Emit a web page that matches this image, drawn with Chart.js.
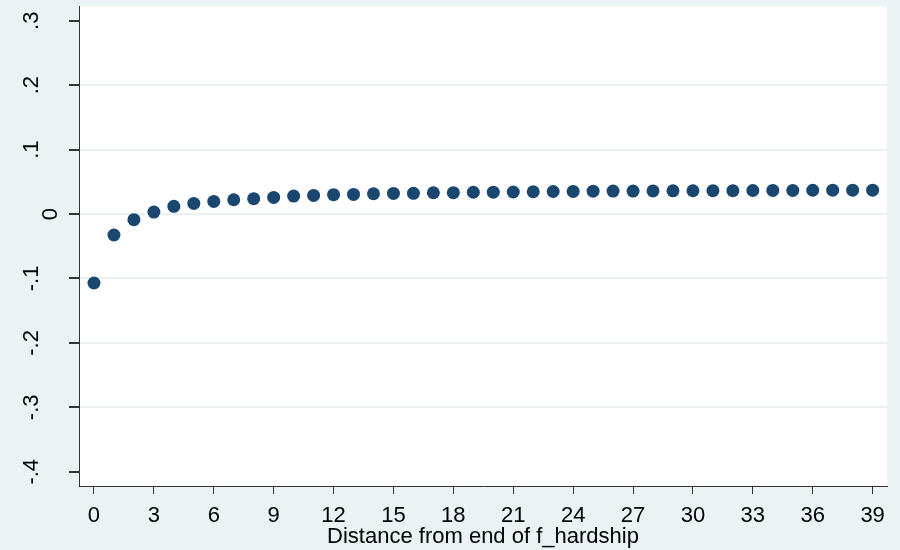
<!DOCTYPE html>
<html>
<head>
<meta charset="utf-8">
<script src="https://cdn.jsdelivr.net/npm/chart.js@4.4.1/dist/chart.umd.min.js"></script>
<style>
  html, body { margin: 0; padding: 0; background: #eaf2f3; }
  #wrap { width: 900px; height: 550px; position: relative; }
</style>
</head>
<body>
<div id="wrap"><canvas id="chart"></canvas></div>
<script>
// data
const distance = [0, 1, 2, 3, 4, 5, 6, 7, 8, 9, 10, 11, 12, 13, 14, 15, 16, 17, 18, 19,
  20, 21, 22, 23, 24, 25, 26, 27, 28, 29, 30, 31, 32, 33, 34, 35, 36, 37, 38, 39];
const effect = [-0.107, -0.0325, -0.0087, 0.0031, 0.0119, 0.0165, 0.0196, 0.0222, 0.0238, 0.0258,
  0.0278, 0.0289, 0.0300, 0.0304, 0.0315, 0.0320, 0.0322, 0.0330, 0.0332, 0.0338,
  0.0340, 0.0342, 0.0346, 0.0350, 0.0351, 0.0355, 0.0356, 0.0357, 0.0358, 0.0360,
  0.0361, 0.0362, 0.0363, 0.0365, 0.0366, 0.0367, 0.0369, 0.0370, 0.0370, 0.0371];

const xTicks = [0, 3, 6, 9, 12, 15, 18, 21, 24, 27, 30, 33, 36, 39];
const yTicks = [-0.4, -0.3, -0.2, -0.1, 0, 0.1, 0.2, 0.3];
const yTickLabels = ['-.4', '-.3', '-.2', '-.1', '0', '.1', '.2', '.3'];
const xTitle = 'Distance from end of f_hardship';

const points = distance.map((d, i) => ({ x: d, y: effect[i] }));
const FONT = 'Liberation Sans, Arial, sans-serif';

// white plot region on the stata-ish background
const plotBg = {
  id: 'plotBg',
  beforeDraw(chart) {
    const { ctx, chartArea: a } = chart;
    ctx.save();
    ctx.fillStyle = '#eaf2f3';
    ctx.fillRect(0, 0, chart.width, chart.height);
    ctx.fillStyle = '#ffffff';
    ctx.fillRect(a.left, a.top, a.right - a.left, a.bottom - a.top);
    ctx.restore();
  }
};

function setTicks(list) {
  return scale => { scale.ticks = list.map(v => ({ value: v })); };
}

const chart = new Chart(document.getElementById('chart'), {
  type: 'scatter',
  data: {
    datasets: [{
      data: points,
      backgroundColor: '#1a476f',
      borderColor: '#1a476f',
      pointRadius: 6.5,
      pointHoverRadius: 6.5,
      borderWidth: 0
    }]
  },
  options: {
    responsive: true,
    maintainAspectRatio: false,
    animation: false,
    layout: { padding: { left: 0, top: 4, right: 13, bottom: 0 } },
    plugins: {
      legend: { display: false },
      tooltip: { enabled: false }
    },
    scales: {
      x: {
        type: 'linear',
        min: -0.75,
        max: 39.72,
        afterBuildTicks: setTicks(xTicks),
        afterFit: s => { s.height = 64; s.paddingLeft = 0; s.paddingRight = 0; },
        border: { display: true, color: '#333333', width: 1 },
        grid: { drawOnChartArea: false, drawTicks: true, tickLength: 8, tickColor: '#333333' },
        ticks: {
          color: '#000000',
          font: { family: FONT, size: 22 },
          padding: 9,
          maxRotation: 0,
          autoSkip: false
        },
        title: {
          display: true,
          text: xTitle,
          color: '#000000',
          font: { family: FONT, size: 22 },
          padding: { top: 0, bottom: 0 }
        }
      },
      y: {
        type: 'linear',
        min: -0.4221,
        max: 0.3221,
        afterBuildTicks: setTicks(yTicks),
        afterFit: s => { s.width = 79; s.paddingTop = 0; s.paddingBottom = 0; },
        border: { display: true, color: '#333333', width: 1 },
        grid: {
          drawTicks: true,
          tickLength: 10,
          tickColor: '#333333',
          lineWidth: 2,
          color: c => (c.tick && (c.tick.value === 0.3 || c.tick.value === -0.4)) ? 'rgba(0,0,0,0)' : '#eaf2f3'
        },
        ticks: {
          color: '#000000',
          font: { family: FONT, size: 22, lineHeight: 1.73 },
          minRotation: 90,
          maxRotation: 90,
          crossAlign: 'center',
          padding: 24,
          autoSkip: false,
          callback: v => {
            const i = yTicks.findIndex(t => Math.abs(t - v) < 1e-9);
            if (i < 0) return '';
            // the zero label sits nearer the axis in the original
            return yTickLabels[i] === '0' ? ['', '0'] : yTickLabels[i];
          }
        }
      }
    }
  },
  plugins: [plotBg]
});
</script>
</body>
</html>
